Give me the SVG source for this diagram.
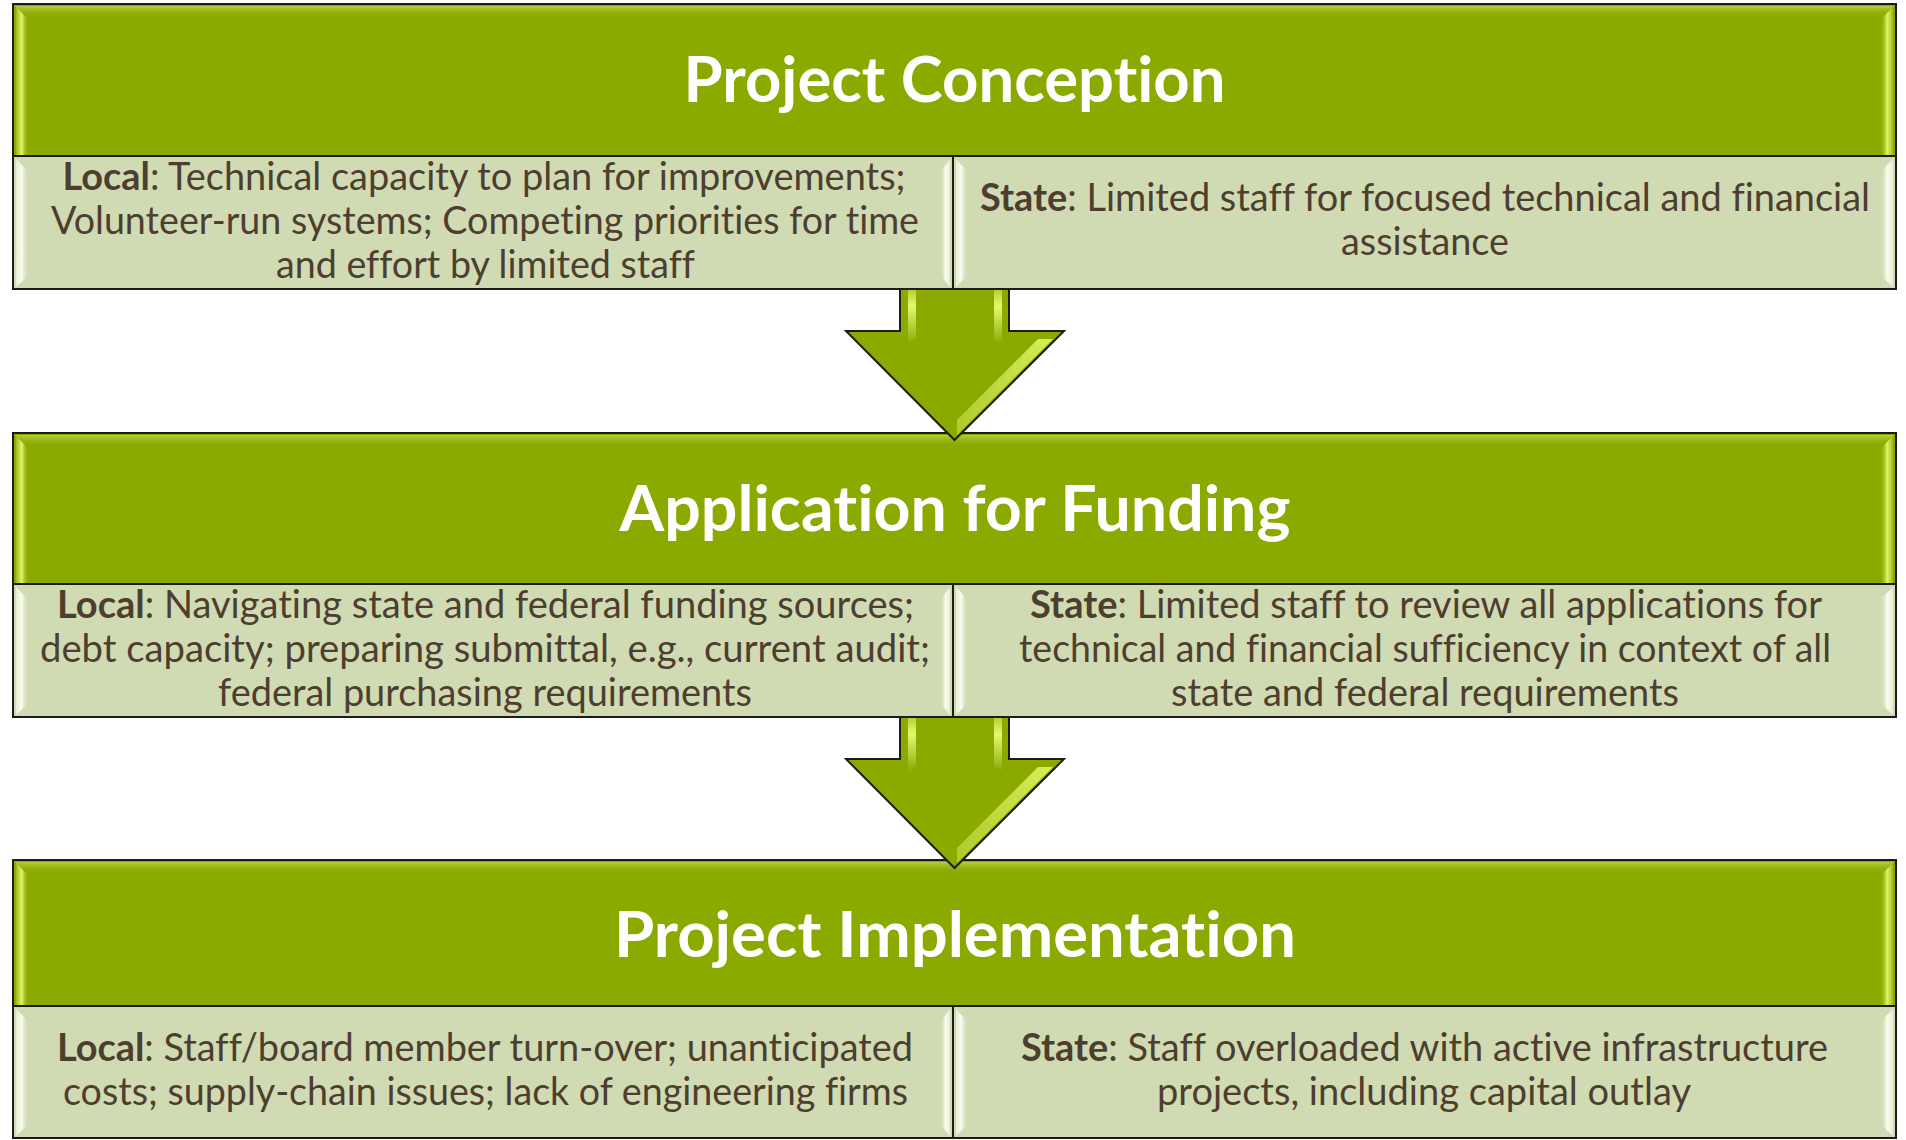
<svg xmlns="http://www.w3.org/2000/svg" width="1906" height="1140" viewBox="0 0 1906 1140">
  <defs>
    <style>
      .hdr { fill: #8AAA00; stroke: #1c1c1c; stroke-width: 2; }
      .cell { fill: #D1DBB3; stroke: #1c1c1c; stroke-width: 2; }
      .title { font-family: Lato, "Open Sans", sans-serif; font-weight: 700; font-size: 64px; fill: #ffffff; text-anchor: middle; font-variant-ligatures: none; font-feature-settings: "liga" 0, "clig" 0; }
      .body { font-family: Lato, "Open Sans", sans-serif; font-size: 39px; fill: #4E3E30; text-anchor: middle; font-variant-ligatures: none; font-feature-settings: "liga" 0, "clig" 0; }
      .body .b { font-weight: 700; }
      .arrow { fill: #8AAA00; stroke: #1c1c1c; stroke-width: 2; stroke-linejoin: miter; }
      .hl { fill: url(#gHdrL); }
      .hr { fill: url(#gHdrR); }
      .ht { fill: url(#gHdrT); }
      .cl { fill: url(#gCellL); }
      .cr { fill: url(#gCellR); }
      .shaft { fill: url(#gShaft); }
      .headhl { fill: url(#gHead); }
    </style>
    <!-- bevel gradients for the green header bands -->
    <linearGradient id="gHdrL" x1="0" y1="0" x2="1" y2="0">
      <stop offset="0" stop-color="#9DB81A"/>
      <stop offset="0.45" stop-color="#E2F56A"/>
      <stop offset="1" stop-color="#8AAA00" stop-opacity="0"/>
    </linearGradient>
    <linearGradient id="gHdrR" x1="1" y1="0" x2="0" y2="0">
      <stop offset="0" stop-color="#9DB81A"/>
      <stop offset="0.45" stop-color="#E2F56A"/>
      <stop offset="1" stop-color="#8AAA00" stop-opacity="0"/>
    </linearGradient>
    <linearGradient id="gHdrT" x1="0" y1="0" x2="0" y2="1">
      <stop offset="0" stop-color="#C9E05A" stop-opacity="0.7"/>
      <stop offset="1" stop-color="#8AAA00" stop-opacity="0"/>
    </linearGradient>
    <!-- bevel gradients for the pale detail cells -->
    <linearGradient id="gCellL" x1="0" y1="0" x2="1" y2="0">
      <stop offset="0" stop-color="#E6EDD2"/>
      <stop offset="0.45" stop-color="#FAFCF0"/>
      <stop offset="1" stop-color="#D1DBB3" stop-opacity="0"/>
    </linearGradient>
    <linearGradient id="gCellR" x1="1" y1="0" x2="0" y2="0">
      <stop offset="0" stop-color="#E6EDD2"/>
      <stop offset="0.45" stop-color="#FAFCF0"/>
      <stop offset="1" stop-color="#D1DBB3" stop-opacity="0"/>
    </linearGradient>
    <!-- arrow highlights -->
    <linearGradient id="gShaft" x1="0" y1="0" x2="0" y2="1">
      <stop offset="0" stop-color="#B8D030"/>
      <stop offset="0.3" stop-color="#E4F870"/>
      <stop offset="1" stop-color="#E4F870" stop-opacity="0"/>
    </linearGradient>
    <linearGradient id="gHead" x1="1" y1="0" x2="0" y2="1">
      <stop offset="0" stop-color="#D6EE5A"/>
      <stop offset="1" stop-color="#C8E048" stop-opacity="0.6"/>
    </linearGradient>
  </defs>

  <rect width="1906" height="1140" fill="#ffffff"/>

  <!-- Stage 1 -->
  <g id="stage-conception">
    <rect class="hdr" x="13" y="4" width="1883" height="152"/>
    <polygon class="ht" points="15,6 1894,6 1882,18 27,18"/>
    <polygon class="hl" points="16,7 29,20 29,155 16,155"/>
    <polygon class="hr" points="1893,7 1880,20 1880,155 1893,155"/>
    <text class="title" x="954.5" y="102" textLength="542" lengthAdjust="spacingAndGlyphs">Project Conception</text>

    <rect class="cell" x="13" y="156" width="940" height="133"/>
    <polygon class="cl" points="16,159 29,172 29,275 16,287"/>
    <polygon class="cr" points="950,159 940,172 940,275 950,287"/>
    <text class="body" x="484" y="190" textLength="843" lengthAdjust="spacingAndGlyphs"><tspan class="b">Local</tspan>: Technical capacity to plan for improvements;</text>
    <text class="body" x="485" y="234" textLength="868" lengthAdjust="spacingAndGlyphs">Volunteer-run systems; Competing priorities for time</text>
    <text class="body" x="485.5" y="278" textLength="419" lengthAdjust="spacingAndGlyphs">and effort by limited staff</text>

    <rect class="cell" x="953" y="156" width="943" height="133"/>
    <polygon class="cl" points="956,159 968,172 968,275 956,287"/>
    <polygon class="cr" points="1893,159 1880,172 1880,275 1893,287"/>
    <text class="body" x="1425" y="211" textLength="890" lengthAdjust="spacingAndGlyphs"><tspan class="b">State</tspan>: Limited staff for focused technical and financial</text>
    <text class="body" x="1425" y="255" textLength="168" lengthAdjust="spacingAndGlyphs">assistance</text>
  </g>

  <!-- Stage 2 -->
  <g id="stage-application">
    <rect class="hdr" x="13" y="433" width="1883" height="151"/>
    <polygon class="ht" points="15,435 1894,435 1882,447 27,447"/>
    <polygon class="hl" points="16,436 29,449 29,583 16,583"/>
    <polygon class="hr" points="1893,436 1880,449 1880,583 1893,583"/>
    <text class="title" x="955" y="531" textLength="671" lengthAdjust="spacingAndGlyphs">Application for Funding</text>

    <rect class="cell" x="13" y="584" width="940" height="133"/>
    <polygon class="cl" points="16,587 29,600 29,703 16,715"/>
    <polygon class="cr" points="950,587 940,600 940,703 950,715"/>
    <text class="body" x="485.5" y="618" textLength="857" lengthAdjust="spacingAndGlyphs"><tspan class="b">Local</tspan>: Navigating state and federal funding sources;</text>
    <text class="body" x="485" y="662" textLength="890" lengthAdjust="spacingAndGlyphs">debt capacity; preparing submittal, e.g., current audit;</text>
    <text class="body" x="485" y="706" textLength="534" lengthAdjust="spacingAndGlyphs">federal purchasing requirements</text>

    <rect class="cell" x="953" y="584" width="943" height="133"/>
    <polygon class="cl" points="956,587 968,600 968,703 956,715"/>
    <polygon class="cr" points="1893,587 1880,600 1880,703 1893,715"/>
    <text class="body" x="1426" y="618" textLength="792" lengthAdjust="spacingAndGlyphs"><tspan class="b">State</tspan>: Limited staff to review all applications for</text>
    <text class="body" x="1425" y="662" textLength="812" lengthAdjust="spacingAndGlyphs">technical and financial sufficiency in context of all</text>
    <text class="body" x="1425" y="706" textLength="508" lengthAdjust="spacingAndGlyphs">state and federal requirements</text>
  </g>

  <!-- Stage 3 -->
  <g id="stage-implementation">
    <rect class="hdr" x="13" y="860" width="1883" height="146"/>
    <polygon class="ht" points="15,862 1894,862 1882,874 27,874"/>
    <polygon class="hl" points="16,863 29,876 29,1005 16,1005"/>
    <polygon class="hr" points="1893,863 1880,876 1880,1005 1893,1005"/>
    <text class="title" x="955" y="957" textLength="682" lengthAdjust="spacingAndGlyphs">Project Implementation</text>

    <rect class="cell" x="13" y="1006" width="940" height="132"/>
    <polygon class="cl" points="16,1009 29,1022 29,1124 16,1136"/>
    <polygon class="cr" points="950,1009 940,1022 940,1124 950,1136"/>
    <text class="body" x="485" y="1061" textLength="856" lengthAdjust="spacingAndGlyphs"><tspan class="b">Local</tspan>: Staff/board member turn-over; unanticipated</text>
    <text class="body" x="485.5" y="1105" textLength="845" lengthAdjust="spacingAndGlyphs">costs; supply-chain issues; lack of engineering firms</text>

    <rect class="cell" x="953" y="1006" width="943" height="132"/>
    <polygon class="cl" points="956,1009 968,1022 968,1124 956,1136"/>
    <polygon class="cr" points="1893,1009 1880,1022 1880,1124 1893,1136"/>
    <text class="body" x="1424.5" y="1061" textLength="807" lengthAdjust="spacingAndGlyphs"><tspan class="b">State</tspan>: Staff overloaded with active infrastructure</text>
    <text class="body" x="1424" y="1105" textLength="534" lengthAdjust="spacingAndGlyphs">projects, including capital outlay</text>
  </g>

  <!-- Down arrows between stages -->
  <g id="connectors">
    <g id="arrow-1">
      <polygon class="arrow" points="900,289 1009,289 1009,331 1064,331 954.5,440 846,331 900,331"/>
      <polygon class="shaft" points="908,290 916,290 916,338 908,344"/>
      <polygon class="shaft" points="994,290 1002,290 1002,344 994,338"/>
      <polygon class="headhl" points="1038,339 1053,339 957,435 957,420"/>
    </g>
    <g id="arrow-2">
      <polygon class="arrow" points="900,717 1009,717 1009,759 1064,759 954.5,868 846,759 900,759"/>
      <polygon class="shaft" points="908,718 916,718 916,766 908,772"/>
      <polygon class="shaft" points="994,718 1002,718 1002,772 994,766"/>
      <polygon class="headhl" points="1038,767 1053,767 957,863 957,848"/>
    </g>
  </g>
</svg>
